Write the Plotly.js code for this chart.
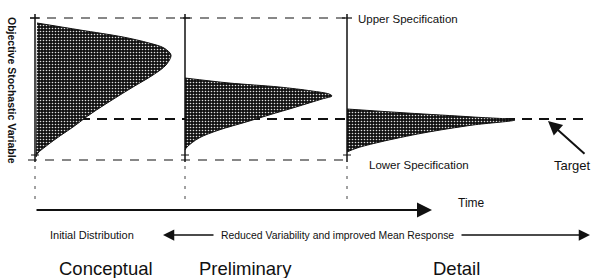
<!DOCTYPE html>
<html>
<head>
<meta charset="utf-8">
<script src="https://cdn.plot.ly/plotly-3.0.1.min.js"></script>
<style>html,body{margin:0;padding:0;background:#fff;}#chart{width:595px;height:278px;}</style>
</head>
<body>
<div id="chart"></div>
<script>
// ---- data ----
const phaseNames = ['Conceptual', 'Preliminary', 'Detail'];
const phaseTime = [35, 185, 347];            // time at which each distribution is shown
const upperSpec = 18;
const lowerSpec = 160;
const targetValue = 119;

// response value (vertical) and relative density (horizontal extent) of each distribution
const conceptualY       = [23, 30, 37, 43, 48, 55, 65, 75, 87, 100, 113, 127, 138, 147, 153, 157];
const conceptualDensity = [2, 45, 88, 114, 129, 136, 131, 118, 98, 77, 57, 38, 22, 10, 3, 1];
const preliminaryY       = [78, 83, 87, 91, 94, 96, 99, 107, 115, 122, 130, 138, 147, 150];
const preliminaryDensity = [0, 44, 94, 127, 144, 147, 137, 111, 84, 61, 34, 14, 2, 0];
const detailY       = [109, 113, 117, 120, 125, 133, 142, 148, 152];
const detailDensity = [0, 60, 126, 168, 126, 76, 33, 10, 0];

const timeEnd = 432;

// ---- build traces ----
const traces = [];
const ink = '#111';
const font = 'Liberation Sans, Arial, sans-serif';

// target dashed line
traces.push({x: [80, 590], y: [targetValue, targetValue], mode: 'lines',
  line: {color: ink, width: 2.2, dash: '10px,7px'}, hoverinfo: 'skip'});
// specification lines
traces.push({x: [30, phaseTime[2]], y: [upperSpec, upperSpec], mode: 'lines',
  line: {color: ink, width: 1.2, dash: '9px,8px'}, hoverinfo: 'skip'});
traces.push({x: [28, phaseTime[2]], y: [lowerSpec, lowerSpec], mode: 'lines',
  line: {color: ink, width: 1.2, dash: '9px,8px'}, hoverinfo: 'skip'});

const dists = [[conceptualY, conceptualDensity], [preliminaryY, preliminaryDensity], [detailY, detailDensity]];
dists.forEach((d, i) => {
  const t0 = phaseTime[i];
  traces.push({
    x: d[1].map(v => t0 + v), y: d[0], mode: 'lines', fill: 'toself',
    line: {color: ink, width: 1, shape: 'spline', smoothing: 0.9},
    fillcolor: '#111',
    fillpattern: {shape: '.', bgcolor: '#111', fgcolor: '#e0e0e0', size: 3, solidity: 0.22, fillmode: 'replace'},
    hoverinfo: 'skip'
  });
});

phaseTime.forEach(t0 => {
  // stage axis
  traces.push({x: [t0, t0], y: [upperSpec - 4, lowerSpec + 2], mode: 'lines',
    line: {color: ink, width: 1.5}, hoverinfo: 'skip'});
  // small tick marks
  traces.push({x: [t0 - 5, t0 + 5], y: [upperSpec, upperSpec], mode: 'lines',
    line: {color: ink, width: 1.2}, hoverinfo: 'skip'});
  traces.push({x: [t0 - 4, t0 + 4], y: [lowerSpec - 5, lowerSpec - 5], mode: 'lines',
    line: {color: ink, width: 1}, hoverinfo: 'skip'});
  // dotted extension to the time axis
  traces.push({x: [t0, t0], y: [166, 201], mode: 'lines',
    line: {color: '#444', width: 1, dash: '3px,7px'}, hoverinfo: 'skip'});
});

// ---- annotations ----
const annotations = [
  {x: 12, y: 90, text: '<b>Objective Stochastic Variable</b>', textangle: 90, showarrow: false,
   font: {family: font, size: 10.5, color: ink}},
  {x: 356, y: 19, xanchor: 'left', text: 'Upper Specification', showarrow: false,
   font: {family: font, size: 11.5, color: ink}},
  {x: 367, y: 165, xanchor: 'left', text: 'Lower Specification', showarrow: false,
   font: {family: font, size: 11.5, color: ink}},
  {x: 552, y: 165, xanchor: 'left', text: 'Target', showarrow: false,
   font: {family: font, size: 13, color: ink}},
  {x: 548, y: 121, ax: 586, ay: 155, axref: 'x', ayref: 'y', xref: 'x', yref: 'y', text: '',
   showarrow: true, arrowhead: 2, arrowsize: 1.4, arrowwidth: 2, arrowcolor: ink, standoff: 0},
  {x: timeEnd, y: 210, ax: phaseTime[0], ay: 210, axref: 'x', ayref: 'y', text: '',
   showarrow: true, arrowhead: 2, arrowsize: 1.5, arrowwidth: 2, arrowcolor: ink, standoff: 0},
  {x: 456, y: 203, xanchor: 'left', text: 'Time', showarrow: false,
   font: {family: font, size: 12, color: ink}},
  {x: 48, y: 235, xanchor: 'left', text: 'Initial Distribution', showarrow: false,
   font: {family: font, size: 11, color: ink}},
  {x: 163, y: 235, ax: 215, ay: 235, axref: 'x', ayref: 'y', text: '',
   showarrow: true, arrowhead: 2, arrowsize: 1.5, arrowwidth: 1.5, arrowcolor: ink, standoff: 0},
  {x: 219, y: 235, xanchor: 'left', text: 'Reduced Variability and improved Mean Response', showarrow: false,
   font: {family: font, size: 10.4, color: ink}},
  {x: 590, y: 235, ax: 460, ay: 235, axref: 'x', ayref: 'y', text: '',
   showarrow: true, arrowhead: 2, arrowsize: 1.5, arrowwidth: 1.5, arrowcolor: ink, standoff: 0}
];
const labelX = [106, 245, 456];
phaseNames.forEach((n, i) => {
  annotations.push({x: labelX[i], y: 268, text: n, showarrow: false,
    font: {family: font, size: 18.5, color: ink}});
});

const layout = {
  width: 595, height: 278,
  margin: {l: 0, r: 0, t: 0, b: 0},
  paper_bgcolor: '#fff', plot_bgcolor: '#fff',
  showlegend: false,
  xaxis: {range: [0, 595], visible: false, fixedrange: true},
  yaxis: {range: [278, 0], visible: false, fixedrange: true},
  annotations: annotations
};

Plotly.newPlot('chart', traces, layout, {displayModeBar: false, staticPlot: true});
</script>
</body>
</html>
